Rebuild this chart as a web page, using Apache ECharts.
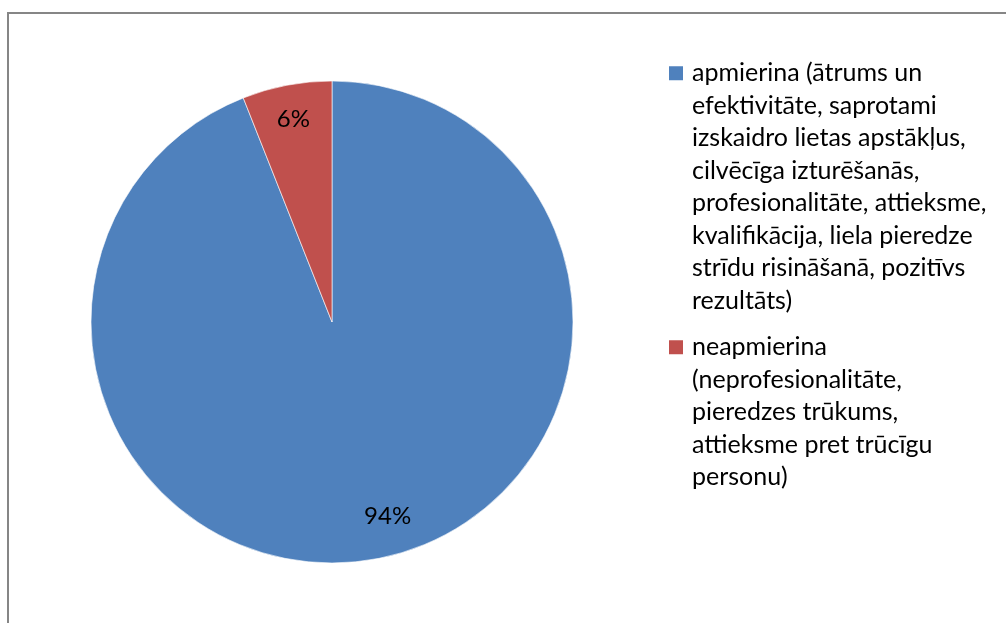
<!DOCTYPE html>
<html>
<head>
<meta charset="utf-8">
<script src="https://cdn.jsdelivr.net/npm/echarts@6/dist/echarts.min.js"></script>
<style>
  html, body { margin: 0; padding: 0; background: #fff; }
  #chart { width: 1006px; height: 623px; }
</style>
</head>
<body>
<div id="chart"></div>
<script>
// kategorijas (legendas teksts ar rindu pārnesumiem)
const categories = [
  'apmierina (ātrums un\nefektivitāte, saprotami\nizskaidro lietas apstākļus,\ncilvēcīga izturēšanās,\nprofesionalitāte, attieksme,\nkvalifikācija, liela pieredze\nstrīdu risināšanā, pozitīvs\nrezultāts)',
  'neapmierina\n(neprofesionalitāte,\npieredzes trūkums,\nattieksme pret trūcīgu\npersonu)'
]
const values = [94, 6]
const colors = ['#4F81BD', '#C0504D']

const fontFamily = 'Lato'
const lineH = 32.5

const chart = echarts.init(document.getElementById('chart'))

// legenda - ikona pie pirmās rindas
const legendItems = []
let legendY = 57
categories.forEach((name, i) => {
  legendItems.push({
    type: 'rect',
    shape: { x: 669, y: legendY + lineH / 2 - 7, width: 14, height: 14 },
    style: { fill: colors[i] },
    silent: true
  })
  legendItems.push({
    type: 'text',
    style: {
      text: name,
      x: 692,
      y: legendY,
      font: '25px ' + fontFamily,
      lineHeight: lineH,
      fill: '#000',
      verticalAlign: 'top'
    },
    silent: true
  })
  legendY += name.split('\n').length * lineH + 14
})

const option = {
  animation: false,
  backgroundColor: '#fff',
  graphic: [
    {
      type: 'rect',
      shape: { x: 8, y: 13, width: 1100, height: 700 },
      style: { fill: 'none', stroke: '#868686', lineWidth: 2 },
      silent: true
    }
  ].concat(legendItems),
  series: [
    {
      name: 'main',
      type: 'pie',
      center: [332, 322],
      radius: [0, 241],
      startAngle: 90,
      clockwise: true,
      silent: true,
      label: { show: false },
      labelLine: { show: false },
      itemStyle: { borderColor: 'rgba(255,255,255,0.6)', borderWidth: 1 },
      data: categories.map((name, i) => ({
        name: name,
        value: values[i],
        itemStyle: { color: colors[i] }
      }))
    },
    {
      name: 'labels',
      type: 'pie',
      center: [332, 322],
      radius: [165, 241],
      startAngle: 90,
      clockwise: true,
      silent: true,
      itemStyle: { color: 'rgba(0,0,0,0)' },
      label: {
        show: true,
        position: 'inner',
        formatter: '{c}%',
        fontFamily: fontFamily,
        fontSize: 24,
        color: '#000'
      },
      labelLine: { show: false },
      data: categories.map((name, i) => ({
        name: name,
        value: values[i],
        label: i === 0 ? { offset: [17, -8] } : {}
      }))
    }
  ]
}

chart.setOption(option)
</script>
</body>
</html>
